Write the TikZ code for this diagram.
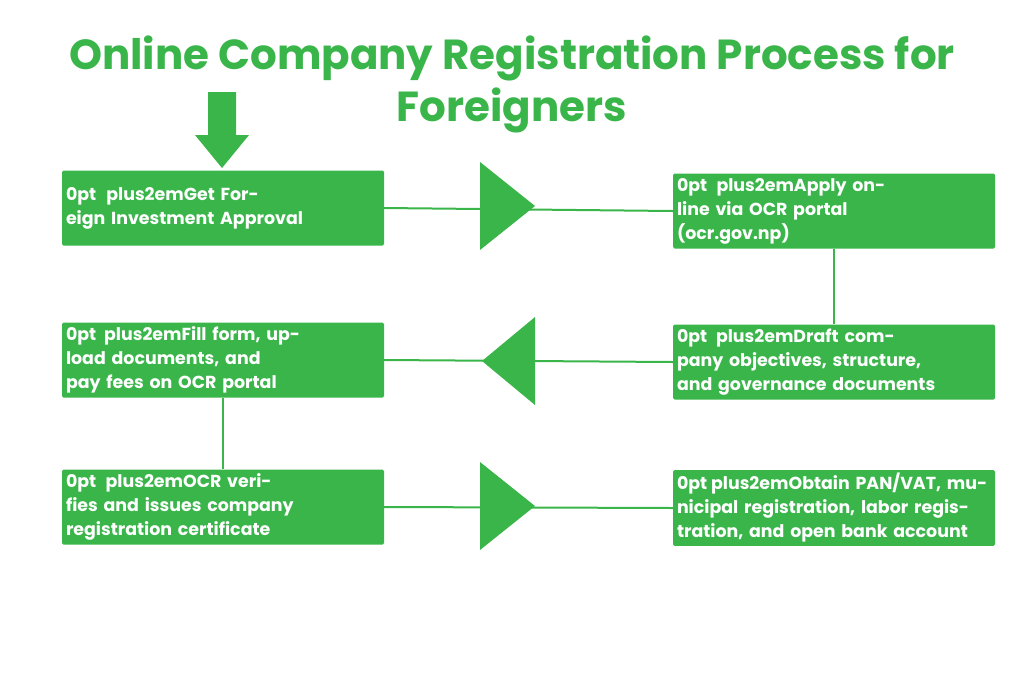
\documentclass[tikz,border=0pt]{standalone}
\usepackage{fontspec}
\setmainfont{Poppins}[BoldFont={* Bold}]
\definecolor{ocrgreen}{RGB}{57,181,74}
\begin{document}
\begin{tikzpicture}[x=1pt,y=-1pt,
  step box/.style={fill=ocrgreen,rounded corners=1.5pt,minimum width=322pt,minimum height=75pt,
    text width=314pt,align=center,text=white,
    font=\fontsize{17.4}{24}\selectfont\bfseries\hyphenpenalty=10000\exhyphenpenalty=10000},
  link/.style={ocrgreen,line width=2pt}]
  \useasboundingbox (0,0) rectangle (1024,683);
  \node[text=ocrgreen,align=center,font=\fontsize{42}{52}\selectfont\bfseries] (title) at (512,84)
    {Online Company Registration Process for\\Foreigners};
  \coordinate (down) at (222,92);
  \fill[ocrgreen] (down) ++(-14,0) -- ++(28,0) -- ++(0,43) -- ++(13,0) -- ++(-27,33)
    -- ++(-27,-33) -- ++(13,0) -- cycle;

  \node[step box] (b1) at (223,208) {Get Foreign Investment Approval};
  \node[step box] (b2) at (834,211) {Apply online via OCR portal\\(ocr.gov.np)};
  \node[step box] (b3) at (834,362) {Draft company objectives, structure, and governance documents};
  \node[step box] (b4) at (223,360) {Fill form, upload documents, and pay fees on OCR portal};
  \node[step box] (b5) at (223,507) {OCR verifies and issues company registration certificate};
  \node[step box] (b6) at (834,508) {Obtain PAN/VAT, municipal registration, labor registration, and open bank account};

  \draw[link] (b1.east) -- (b2.west);
  \draw[link] (b2.south) -- (b3.north);
  \draw[link] (b3.west) -- (b4.east);
  \draw[link] (b4.south) -- (b5.north);
  \draw[link] (b5.east) -- (b6.west);

  % direction marks on the links
  \coordinate (t1) at (480,206);
  \coordinate (t2) at (535,361);
  \coordinate (t3) at (480,506);
  \fill[ocrgreen] (t1) ++(0,-44) -- ++(55,44) -- ++(-55,44) -- cycle;
  \fill[ocrgreen] (t2) ++(0,-44) -- ++(-53,44) -- ++(53,44) -- cycle;
  \fill[ocrgreen] (t3) ++(0,-44) -- ++(55,44) -- ++(-55,44) -- cycle;
\end{tikzpicture}
\end{document}
